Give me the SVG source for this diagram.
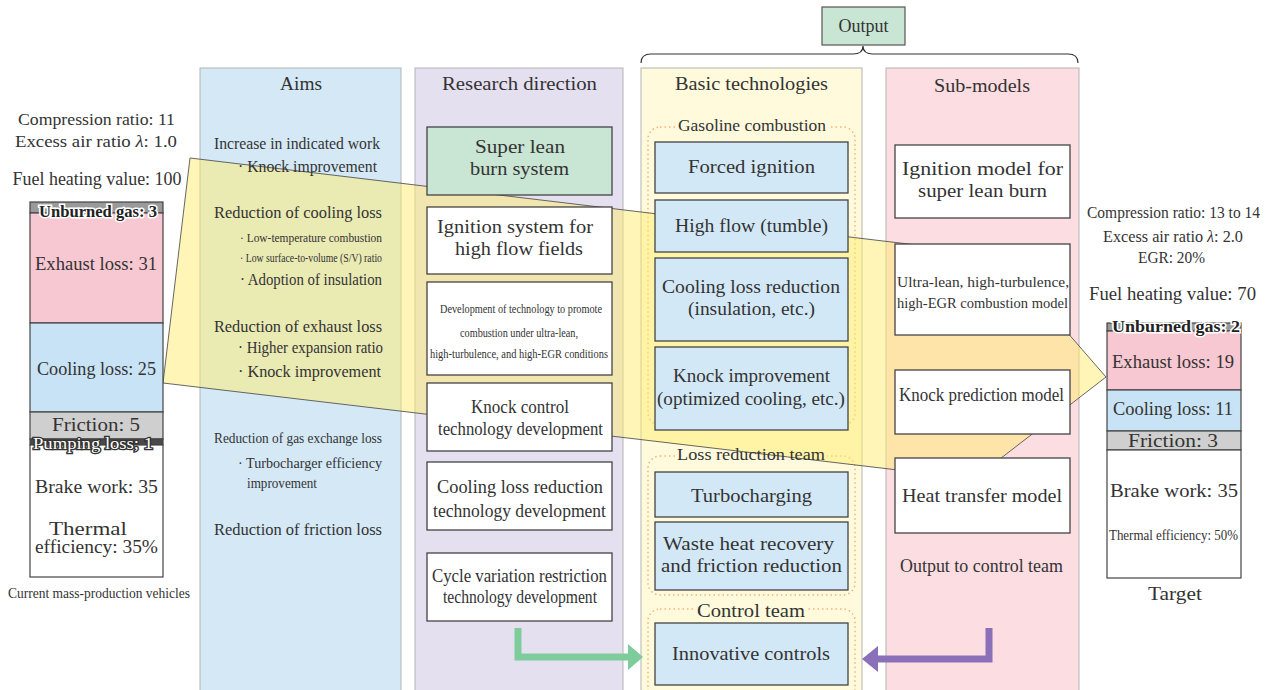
<svg xmlns="http://www.w3.org/2000/svg" width="1269" height="690" viewBox="0 0 1269 690">
<style>
text{font-family:"Liberation Serif","Times New Roman",serif;fill:#333;font-size:18px}
.c{text-anchor:middle}
.s16{font-size:16px}
.s15{font-size:15.5px}
.s14{font-size:14.5px}
.s13{font-size:13.5px}
.col{stroke:#b4b4b4;stroke-width:1}
.box{fill:#fff;stroke:#444;stroke-width:1.3}
.bbox{fill:#d3e8f6;stroke:#444;stroke-width:1.3}
.grp{fill:none;stroke:#f6b27a;stroke-width:1.5;stroke-dasharray:1.5 3}
.bar{stroke:#444;stroke-width:1.2}
.halo{font-weight:bold;stroke:#fff;stroke-width:3;paint-order:stroke;fill:#222;font-size:16px}
</style>
<rect width="1269" height="690" fill="#fff"/>

<g id="columns">
<rect class="col" x="200" y="68" width="201" height="630" fill="#d4e8f6"/>
<rect class="col" x="415" y="68" width="208" height="630" fill="#e5e0f0"/>
<rect class="col" x="641" y="68" width="221" height="630" fill="#fffadc"/>
<rect class="col" x="886" y="68" width="193" height="630" fill="#fcdde1"/>
</g>

<g id="groups">
<rect class="grp" x="648" y="127" width="207" height="298" rx="12"/>
<rect x="676" y="121" width="152" height="14" fill="#fffadc"/>
<rect class="grp" x="648" y="456" width="207" height="139" rx="12"/>
<rect x="675" y="449" width="152" height="14" fill="#fffadc"/>
<rect class="grp" x="648" y="609" width="207" height="100" rx="12"/>
<rect x="694" y="603" width="114" height="14" fill="#fffadc"/>
</g>

<g id="funnel">
<polygon points="190,158 1000,255 1106,377 974,479 163,383" fill="#ffec70" fill-opacity="0.5" stroke="#555" stroke-width="0.9"/>
</g>

<g id="output">
<rect x="822" y="7" width="83" height="38" fill="#c9e5d3" stroke="#555" stroke-width="1.2"/>
<text class="c" x="863.5" y="32">Output</text>
<path d="M641,63 Q641,54 651,54 H853 Q863,54 863,46 Q863,54 873,54 H1068 Q1078,54 1078,63" fill="none" stroke="#333" stroke-width="1.2"/>
</g>

<g id="current">
<text class="c s16" x="96.5" y="125" textLength="157" lengthAdjust="spacingAndGlyphs">Compression ratio: 11</text>
<text class="c s16" x="96" y="147" textLength="162" lengthAdjust="spacingAndGlyphs">Excess air ratio <tspan font-style="italic">λ</tspan>: 1.0</text>
<text class="c" x="97" y="185" textLength="169" lengthAdjust="spacingAndGlyphs">Fuel heating value: 100</text>
<rect class="bar" x="30" y="202" width="133" height="11" fill="#9a9a9a"/>
<rect class="bar" x="30" y="213" width="133" height="110" fill="#f8c8d2"/>
<rect class="bar" x="30" y="323" width="133" height="89" fill="#c8e3f5"/>
<rect class="bar" x="30" y="412" width="133" height="27" fill="#cfcfcf"/>
<rect class="bar" x="30" y="439" width="133" height="6" fill="#4a4a4a"/>
<rect class="bar" x="30" y="445" width="133" height="132" fill="#fff"/>
<text class="c halo" x="98" y="217" textLength="118" lengthAdjust="spacingAndGlyphs">Unburned gas: 3</text>
<text class="c" x="96" y="270" textLength="122" lengthAdjust="spacingAndGlyphs">Exhaust loss: 31</text>
<text class="c" x="96.5" y="375" textLength="119" lengthAdjust="spacingAndGlyphs">Cooling loss: 25</text>
<text class="c" x="96" y="431" textLength="88" lengthAdjust="spacingAndGlyphs">Friction: 5</text>
<text class="c halo" x="93" y="449" textLength="120" lengthAdjust="spacingAndGlyphs" style="font-weight:normal;fill:#fff;stroke:#333;stroke-width:2.5">Pumping loss; 1</text>
<text class="c" x="96.5" y="493" textLength="123" lengthAdjust="spacingAndGlyphs">Brake work: 35</text>
<text class="c" x="88" y="535" textLength="78" lengthAdjust="spacingAndGlyphs">Thermal</text>
<text class="c" x="96.5" y="553" textLength="123" lengthAdjust="spacingAndGlyphs">efficiency: 35%</text>
<text class="c s14" x="99" y="598" textLength="182" lengthAdjust="spacingAndGlyphs">Current mass-production vehicles</text>
</g>

<g id="target">
<text class="c s16" x="1173.5" y="218" textLength="173" lengthAdjust="spacingAndGlyphs">Compression ratio: 13 to 14</text>
<text class="c s16" x="1173" y="242" textLength="140" lengthAdjust="spacingAndGlyphs">Excess air ratio <tspan font-style="italic">λ</tspan>: 2.0</text>
<text class="c s16" x="1171.5" y="263" textLength="67" lengthAdjust="spacingAndGlyphs">EGR: 20%</text>
<text class="c" x="1172.5" y="300" textLength="167" lengthAdjust="spacingAndGlyphs">Fuel heating value: 70</text>
<rect class="bar" x="1107" y="323" width="134" height="8" fill="#9a9a9a"/>
<rect class="bar" x="1107" y="331" width="134" height="59" fill="#f8c8d2"/>
<rect class="bar" x="1107" y="390" width="134" height="41" fill="#c8e3f5"/>
<rect class="bar" x="1107" y="431" width="134" height="19" fill="#cfcfcf"/>
<rect class="bar" x="1107" y="450" width="134" height="128" fill="#fff"/>
<text class="c halo" x="1176" y="332" textLength="128" lengthAdjust="spacingAndGlyphs">Unburned gas: 2</text>
<text class="c" x="1173" y="368" textLength="122" lengthAdjust="spacingAndGlyphs">Exhaust loss: 19</text>
<text class="c" x="1173" y="415" textLength="120" lengthAdjust="spacingAndGlyphs">Cooling loss: 11</text>
<text class="c" x="1173" y="447" textLength="90" lengthAdjust="spacingAndGlyphs">Friction: 3</text>
<text class="c" x="1174" y="497" textLength="128" lengthAdjust="spacingAndGlyphs">Brake work: 35</text>
<text class="c s14" x="1173.5" y="540" textLength="129" lengthAdjust="spacingAndGlyphs">Thermal efficiency: 50%</text>
<text class="c" x="1175" y="600" textLength="54" lengthAdjust="spacingAndGlyphs">Target</text>
</g>

<g id="aims">
<text class="c" x="301" y="90" textLength="42" lengthAdjust="spacingAndGlyphs">Aims</text>
<text class="s16" x="214" y="149" textLength="166" lengthAdjust="spacingAndGlyphs">Increase in indicated work</text>
<text class="s16" x="238" y="172" textLength="139" lengthAdjust="spacingAndGlyphs">· Knock improvement</text>
<text class="s16" x="214" y="218" textLength="168" lengthAdjust="spacingAndGlyphs">Reduction of cooling loss</text>
<text class="s13" x="240" y="242" textLength="142" lengthAdjust="spacingAndGlyphs">· Low-temperature combustion</text>
<text class="s13" x="240" y="262" textLength="142" lengthAdjust="spacingAndGlyphs">· Low surface-to-volume (S/V) ratio</text>
<text class="s16" x="240" y="285" textLength="142" lengthAdjust="spacingAndGlyphs">· Adoption of insulation</text>
<text class="s16" x="214" y="332" textLength="168" lengthAdjust="spacingAndGlyphs">Reduction of exhaust loss</text>
<text class="s16" x="238" y="353" textLength="145" lengthAdjust="spacingAndGlyphs">· Higher expansion ratio</text>
<text class="s16" x="238" y="377" textLength="143" lengthAdjust="spacingAndGlyphs">· Knock improvement</text>
<text class="s15" x="214" y="443" textLength="168" lengthAdjust="spacingAndGlyphs">Reduction of gas exchange loss</text>
<text class="s15" x="238" y="468" textLength="144" lengthAdjust="spacingAndGlyphs">· Turbocharger efficiency</text>
<text class="s14" x="247" y="488" textLength="70" lengthAdjust="spacingAndGlyphs">improvement</text>
<text class="s16" x="214" y="535" textLength="168" lengthAdjust="spacingAndGlyphs">Reduction of friction loss</text>
</g>

<g id="research">
<text class="c" x="519.5" y="90" textLength="155" lengthAdjust="spacingAndGlyphs">Research direction</text>
<g id="r1"><rect x="427" y="127" width="185" height="68" fill="#c9e5d3" stroke="#444" stroke-width="1.3"/>
<text class="c" x="520" y="153" textLength="90" lengthAdjust="spacingAndGlyphs">Super lean</text>
<text class="c" x="519.5" y="175" textLength="99" lengthAdjust="spacingAndGlyphs">burn system</text></g>
<g id="r2"><rect class="box" x="427" y="207" width="185" height="67"/>
<text class="c" x="515" y="233" textLength="156" lengthAdjust="spacingAndGlyphs">Ignition system for</text>
<text class="c" x="519" y="255" textLength="128" lengthAdjust="spacingAndGlyphs">high flow fields</text></g>
<g id="r3"><rect class="box" x="427" y="282" width="185" height="93"/>
<text class="c s13" x="521" y="313" textLength="162" lengthAdjust="spacingAndGlyphs">Development of technology to promote</text>
<text class="c s13" x="519" y="337" textLength="118" lengthAdjust="spacingAndGlyphs">combustion under ultra-lean,</text>
<text class="c s13" x="519" y="358" textLength="178" lengthAdjust="spacingAndGlyphs">high-turbulence, and high-EGR conditions</text></g>
<g id="r4"><rect class="box" x="427" y="383" width="185" height="68"/>
<text class="c" x="520" y="413" textLength="98" lengthAdjust="spacingAndGlyphs">Knock control</text>
<text class="c" x="520.5" y="435" textLength="165" lengthAdjust="spacingAndGlyphs">technology development</text></g>
<g id="r5"><rect class="box" x="427" y="462" width="185" height="68"/>
<text class="c" x="520" y="493" textLength="166" lengthAdjust="spacingAndGlyphs">Cooling loss reduction</text>
<text class="c" x="519.5" y="517" textLength="173" lengthAdjust="spacingAndGlyphs">technology development</text></g>
<g id="r6"><rect class="box" x="427" y="553" width="185" height="68"/>
<text class="c" x="519.5" y="582" textLength="175" lengthAdjust="spacingAndGlyphs">Cycle variation restriction</text>
<text class="c" x="520" y="603" textLength="154" lengthAdjust="spacingAndGlyphs">technology development</text></g>
</g>

<g id="basic">
<text class="c" x="751.5" y="90" textLength="153" lengthAdjust="spacingAndGlyphs">Basic technologies</text>
<text class="c s16" x="752" y="131" textLength="148" lengthAdjust="spacingAndGlyphs">Gasoline combustion</text>
<g id="b1"><rect class="bbox" x="655" y="142" width="193" height="51"/>
<text class="c" x="751.5" y="173" textLength="127" lengthAdjust="spacingAndGlyphs">Forced ignition</text></g>
<g id="b2"><rect class="bbox" x="655" y="200" width="193" height="52"/>
<text class="c" x="751.5" y="232" textLength="153" lengthAdjust="spacingAndGlyphs">High flow (tumble)</text></g>
<g id="b3"><rect class="bbox" x="655" y="258" width="193" height="83"/>
<text class="c" x="751" y="293" textLength="178" lengthAdjust="spacingAndGlyphs">Cooling loss reduction</text>
<text class="c" x="751.5" y="315" textLength="127" lengthAdjust="spacingAndGlyphs">(insulation, etc.)</text></g>
<g id="b4"><rect class="bbox" x="655" y="347" width="193" height="83"/>
<text class="c" x="751.5" y="382" textLength="157" lengthAdjust="spacingAndGlyphs">Knock improvement</text>
<text class="c" x="751" y="405" textLength="188" lengthAdjust="spacingAndGlyphs">(optimized cooling, etc.)</text></g>
<text class="c s16" x="751" y="460" textLength="148" lengthAdjust="spacingAndGlyphs">Loss reduction team</text>
<g id="b5"><rect class="bbox" x="655" y="472" width="193" height="45"/>
<text class="c" x="751.5" y="502" textLength="121" lengthAdjust="spacingAndGlyphs">Turbocharging</text></g>
<g id="b6"><rect class="bbox" x="655" y="522" width="193" height="68"/>
<text class="c" x="748.5" y="550" textLength="171" lengthAdjust="spacingAndGlyphs">Waste heat recovery</text>
<text class="c" x="751.5" y="572" textLength="181" lengthAdjust="spacingAndGlyphs">and friction reduction</text></g>
<text class="c" x="751" y="617" textLength="108" lengthAdjust="spacingAndGlyphs">Control team</text>
<g id="b7"><rect class="bbox" x="655" y="623" width="193" height="62"/>
<text class="c" x="751" y="660" textLength="158" lengthAdjust="spacingAndGlyphs">Innovative controls</text></g>
</g>

<g id="submodels">
<text class="c" x="982" y="92" textLength="96" lengthAdjust="spacingAndGlyphs">Sub-models</text>
<g id="m1"><rect class="box" x="895" y="145" width="175" height="73"/>
<text class="c" x="982.5" y="175" textLength="161" lengthAdjust="spacingAndGlyphs">Ignition model for</text>
<text class="c" x="982.5" y="197" textLength="129" lengthAdjust="spacingAndGlyphs">super lean burn</text></g>
<g id="m2"><rect class="box" x="895" y="244" width="175" height="91"/>
<text class="c s15" x="983" y="287" textLength="172" lengthAdjust="spacingAndGlyphs">Ultra-lean, high-turbulence,</text>
<text class="c s15" x="982.5" y="308" textLength="171" lengthAdjust="spacingAndGlyphs">high-EGR combustion model</text></g>
<g id="m3"><rect class="box" x="895" y="370" width="175" height="64"/>
<text class="c" x="981.5" y="401" textLength="165" lengthAdjust="spacingAndGlyphs">Knock prediction model</text></g>
<g id="m4"><rect class="box" x="895" y="458" width="175" height="75"/>
<text class="c" x="982" y="502" textLength="160" lengthAdjust="spacingAndGlyphs">Heat transfer model</text></g>
<text class="c" x="981.5" y="572" textLength="163" lengthAdjust="spacingAndGlyphs">Output to control team</text>
</g>

<g id="connectors">
<path d="M518,628 V657 H630" fill="none" stroke="#7ecb9c" stroke-width="7"/>
<polygon points="628,644 643,657 628,670" fill="#7ecb9c"/>
<path d="M989,628 V659 H876" fill="none" stroke="#8a70b8" stroke-width="7"/>
<polygon points="878,646 862,659 878,672" fill="#8a70b8"/>
</g>
</svg>
